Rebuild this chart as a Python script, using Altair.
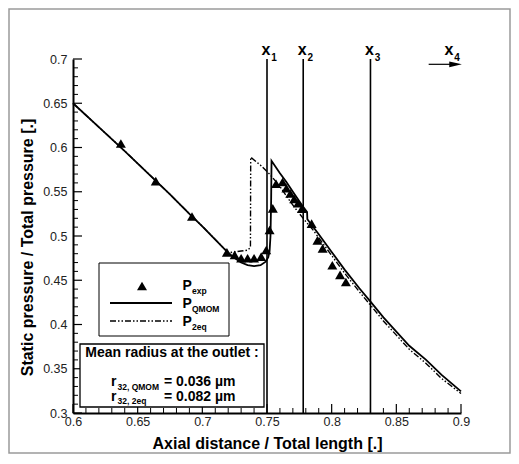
import altair as alt
import pandas as pd

FONT = "Liberation Sans"
W, H = 388, 354

# ---- data ----
qmom_x = [0.600, 0.620, 0.640, 0.660, 0.675, 0.690, 0.700, 0.710, 0.720, 0.725,
          0.730, 0.735, 0.740, 0.745, 0.749, 0.751, 0.752, 0.7527, 0.7532, 0.7535,
          0.760, 0.765, 0.770, 0.7775, 0.7810, 0.7812, 0.790, 0.800, 0.810, 0.8214,
          0.8305, 0.840, 0.850, 0.860, 0.873, 0.885, 0.900]
qmom_y = [0.650, 0.623, 0.596, 0.568, 0.547, 0.525, 0.511, 0.496, 0.481, 0.475,
          0.470, 0.467, 0.466, 0.467, 0.471, 0.476, 0.483, 0.500, 0.540, 0.585,
          0.571, 0.561, 0.550, 0.534, 0.527, 0.519, 0.502, 0.482, 0.462, 0.441,
          0.425, 0.408, 0.392, 0.376, 0.360, 0.343, 0.3245]

eq_x = [0.600, 0.620, 0.640, 0.660, 0.675, 0.690, 0.700, 0.710, 0.720, 0.725,
        0.730, 0.735, 0.7372, 0.7374, 0.745, 0.752, 0.760, 0.766, 0.772, 0.779,
        0.785, 0.790, 0.800, 0.810, 0.8214, 0.8305, 0.840, 0.850, 0.860, 0.873,
        0.885, 0.900]
eq_y = [0.650, 0.623, 0.596, 0.568, 0.547, 0.525, 0.511, 0.496, 0.481, 0.482,
        0.483, 0.484, 0.487, 0.589, 0.580, 0.570, 0.556, 0.543, 0.531, 0.518,
        0.508, 0.498, 0.478, 0.458, 0.437, 0.421, 0.404, 0.388, 0.372, 0.356,
        0.339, 0.322]

exp_x = [0.637, 0.664, 0.692, 0.719, 0.725, 0.730, 0.735, 0.740, 0.7455, 0.7494,
         0.752, 0.7545, 0.757, 0.762, 0.765, 0.768, 0.771, 0.774, 0.777, 0.7845,
         0.789, 0.793, 0.8005, 0.8065, 0.811]
exp_y = [0.6045, 0.562, 0.522, 0.4815, 0.4786, 0.4749, 0.4749, 0.4749, 0.4767, 0.4842,
         0.5068, 0.5313, 0.559, 0.561, 0.554, 0.548, 0.542, 0.537, 0.531, 0.514,
         0.495, 0.486, 0.467, 0.456, 0.448]

station_x = [0.750, 0.778, 0.830]
label_x = [0.750, 0.778, 0.830, 0.8915]
label_sub = ["1", "2", "3", "4"]
arrow_x = [0.875]
arrow_x2 = [0.897]
arrow_y = [0.694]
arrow_head_x = [0.8958]

x_major = [0.6, 0.65, 0.7, 0.75, 0.8, 0.85, 0.9]
x_minor = [0.61, 0.62, 0.63, 0.64, 0.66, 0.67, 0.68, 0.69, 0.71, 0.72, 0.73, 0.74,
           0.76, 0.77, 0.78, 0.79, 0.81, 0.82, 0.83, 0.84, 0.86, 0.87, 0.88, 0.89]
y_major = [0.3, 0.35, 0.4, 0.45, 0.5, 0.55, 0.6, 0.65, 0.7]
y_minor = [0.31, 0.32, 0.33, 0.34, 0.36, 0.37, 0.38, 0.39, 0.41, 0.42, 0.43, 0.44,
           0.46, 0.47, 0.48, 0.49, 0.51, 0.52, 0.53, 0.54, 0.56, 0.57, 0.58, 0.59,
           0.61, 0.62, 0.63, 0.64, 0.66, 0.67, 0.68, 0.69]

legend_subs = ["exp", "QMOM", "2eq"]
radius_title = "Mean radius at the outlet :"
radius_subs = ["32, QMOM", "32, 2eq"]
radius_vals = ["= 0.036 µm", "= 0.082 µm"]

# ---- scales ----
xs = alt.Scale(domain=[0.6, 0.9], nice=False, zero=False)
ys = alt.Scale(domain=[0.3, 0.7], nice=False, zero=False)

one = pd.DataFrame({"k": [0]})

qmom = pd.DataFrame({"x": qmom_x, "y": qmom_y, "i": range(len(qmom_x))})
eq = pd.DataFrame({"x": eq_x, "y": eq_y, "i": range(len(eq_x))})
exp = pd.DataFrame({"x": exp_x, "y": exp_y})


def txt(t, px, py, size, align="left", weight="bold"):
    return alt.Chart(one).mark_text(
        text=t, align=align, baseline="alphabetic", fontSize=size,
        fontWeight=weight, font=FONT, color="black"
    ).encode(x=alt.value(px), y=alt.value(py))


border = alt.Chart(one).mark_rect(
    fill="white", fillOpacity=0, stroke="#9a9a9a", strokeWidth=1.5
).encode(x=alt.value(-64), x2=alt.value(437), y=alt.value(-50), y2=alt.value(394))

xmaj = alt.Chart(pd.DataFrame({"v": x_major})).mark_rule(color="black", strokeWidth=1.2).encode(
    x=alt.X("v:Q", scale=xs, axis=None), y=alt.value(H), y2=alt.value(H - 9))
xmin = alt.Chart(pd.DataFrame({"v": x_minor})).mark_rule(color="black", strokeWidth=1).encode(
    x=alt.X("v:Q", scale=xs, axis=None), y=alt.value(H), y2=alt.value(H - 5))
ymaj = alt.Chart(pd.DataFrame({"v": y_major})).mark_rule(color="black", strokeWidth=1.2).encode(
    y=alt.Y("v:Q", scale=ys, axis=None), x=alt.value(0), x2=alt.value(9))
ymin = alt.Chart(pd.DataFrame({"v": y_minor})).mark_rule(color="black", strokeWidth=1).encode(
    y=alt.Y("v:Q", scale=ys, axis=None), x=alt.value(0), x2=alt.value(5))

stations = alt.Chart(pd.DataFrame({"v": station_x})).mark_rule(color="black", strokeWidth=1.6).encode(
    x=alt.X("v:Q", scale=xs, axis=None), y=alt.value(0), y2=alt.value(H))

eq_line = alt.Chart(eq).mark_line(
    color="black", strokeWidth=1.4, strokeDash=[6, 2, 1.5, 2, 1.5, 2]
).encode(
    x=alt.X("x:Q", scale=xs, axis=None),
    y=alt.Y("y:Q", scale=ys, axis=None),
    order="i:Q",
)

qmom_line = alt.Chart(qmom).mark_line(color="black", strokeWidth=1.8).encode(
    x=alt.X("x:Q", scale=xs, axis=alt.Axis(
        values=x_major, format="~g", title="Axial distance / Total length [.]",
        grid=False, ticks=True, tickSize=0, domainColor="black", domainWidth=2,
        labelFont=FONT, labelFontSize=12.5, labelColor="#222", labelPadding=2,
        labelFlush=False, labelOverlap=False,
        titleFont=FONT, titleFontSize=16, titleFontWeight="bold", titleColor="black",
        titleY=35, titleBaseline="alphabetic")),
    y=alt.Y("y:Q", scale=ys, axis=alt.Axis(
        values=y_major, format="~g", title="Static pressure / Total pressure [.]",
        grid=False, ticks=True, tickSize=0, domainColor="black", domainWidth=2,
        labelFont=FONT, labelFontSize=12.5, labelColor="#222", labelPadding=6,
        labelFlush=False, labelOverlap=False,
        titleFont=FONT, titleFontSize=16, titleFontWeight="bold", titleColor="black",
        titleX=-41, titleY=188, titleBaseline="alphabetic")),
    order="i:Q",
)

exp_pts = alt.Chart(exp).mark_point(
    shape="triangle-up", filled=True, size=100, color="black", opacity=1
).encode(x=alt.X("x:Q", scale=xs, axis=None), y=alt.Y("y:Q", scale=ys, axis=None))

lab_df = pd.DataFrame({"x": label_x, "s": label_sub})
lab_x = alt.Chart(lab_df).mark_text(
    text="x", fontSize=16, fontWeight="bold", font=FONT, baseline="alphabetic",
    align="center", dx=-1, color="black"
).encode(x=alt.X("x:Q", scale=xs, axis=None), y=alt.value(-4))
lab_s = alt.Chart(lab_df).mark_text(
    fontSize=10, fontWeight="bold", font=FONT, baseline="alphabetic",
    align="center", dx=7, color="black"
).encode(x=alt.X("x:Q", scale=xs, axis=None), y=alt.value(1.5), text="s:N")

arrow_df = pd.DataFrame({"x": arrow_x, "x2": arrow_x2, "y": arrow_y, "hx": arrow_head_x})
arrow = alt.Chart(arrow_df).mark_rule(color="black", strokeWidth=1.2).encode(
    x=alt.X("x:Q", scale=xs, axis=None), x2="x2:Q", y=alt.Y("y:Q", scale=ys, axis=None))
head = alt.Chart(arrow_df).mark_point(
    shape="M-1,-0.45L1,0L-1,0.45Z", filled=True, size=160, color="black", opacity=1
).encode(x=alt.X("hx:Q", scale=xs, axis=None), y=alt.Y("y:Q", scale=ys, axis=None))

# legend box
box1 = alt.Chart(one).mark_rect(fill="white", stroke="black", strokeWidth=1).encode(
    x=alt.value(26), x2=alt.value(156), y=alt.value(204), y2=alt.value(277))
leg_tri = alt.Chart(one).mark_point(
    shape="triangle-up", filled=True, size=100, color="black", opacity=1
).encode(x=alt.value(69), y=alt.value(227))
leg_solid = alt.Chart(one).mark_rule(color="black", strokeWidth=1.8).encode(
    x=alt.value(37), x2=alt.value(99), y=alt.value(244))
leg_dash = alt.Chart(one).mark_rule(
    color="black", strokeWidth=1.5, strokeDash=[6, 2, 1.5, 2, 1.5, 2]
).encode(x=alt.value(37), x2=alt.value(99), y=alt.value(262))

leg_texts = []
for sub, base in zip(legend_subs, [231, 249, 267]):
    leg_texts.append(txt("P", 109.5, base, 14))
    leg_texts.append(txt(sub, 119, base + 4, 8.5))

# radius box
box2 = alt.Chart(one).mark_rect(fill="white", stroke="black", strokeWidth=1.3).encode(
    x=alt.value(7), x2=alt.value(191), y=alt.value(285), y2=alt.value(348))
rad_texts = [txt(radius_title, 99, 298, 14, align="center")]
for sub, val, base in zip(radius_subs, radius_vals, [327, 341.5]):
    rad_texts.append(txt("r", 38, base, 14))
    rad_texts.append(txt(sub, 44.5, base + 3.5, 8.5))
    rad_texts.append(txt(val, 91, base, 14))

chart = alt.layer(
    qmom_line, border, xmin, xmaj, ymin, ymaj, stations, eq_line, exp_pts,
    arrow, head, lab_x, lab_s,
    box1, leg_tri, leg_solid, leg_dash, *leg_texts,
    box2, *rad_texts,
).resolve_axis(x="independent", y="independent").properties(
    width=W, height=H,
    autosize=alt.AutoSizeParams(type="none"),
    padding={"left": 65, "top": 51, "right": 50, "bottom": 41},
    background="white",
).configure_view(stroke=None)

chart.save("out.html", embed_options={"renderer": "svg", "actions": False})
